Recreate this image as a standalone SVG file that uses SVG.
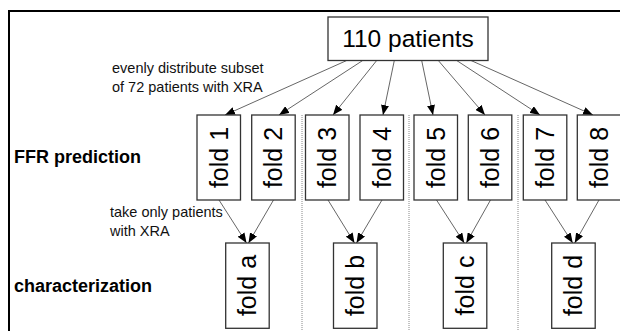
<svg xmlns="http://www.w3.org/2000/svg" width="620" height="331" viewBox="0 0 620 331">
<defs>
<marker id="ah" markerUnits="userSpaceOnUse" markerWidth="10" markerHeight="8" refX="10" refY="4" orient="auto">
<path d="M0,0 L10,4 L0,8 z" fill="#000"/>
</marker>
<style>
.box{fill:#fff;stroke:#333;stroke-width:1.3}
.lbl{font-family:"Liberation Sans",Arial,sans-serif;font-size:14.5px;fill:#111}
.head{font-family:"Liberation Sans",Arial,sans-serif;font-size:18px;font-weight:bold;fill:#000}
.fold{font-family:"Liberation Sans",Arial,sans-serif;font-size:25px;fill:#000;text-anchor:middle}
.conn{stroke:#555;stroke-width:0.9;fill:none;marker-end:url(#ah)}
.sep{stroke:#888;stroke-width:1;stroke-dasharray:1,1}
</style>
</defs>
<rect x="9" y="11" width="620" height="340" fill="none" stroke="#000" stroke-width="2"/>
<g id="separators">
<line class="sep" x1="302" y1="115" x2="302" y2="331"/>
<line class="sep" x1="409" y1="115" x2="409" y2="331"/>
<line class="sep" x1="518" y1="115" x2="518" y2="331"/>
</g>
<text class="lbl" x="112" y="73">evenly distribute subset</text>
<text class="lbl" x="112" y="92">of 72 patients with XRA</text>
<text class="head" x="14" y="163">FFR prediction</text>
<text class="lbl" x="110" y="217">take only patients</text>
<text class="lbl" x="110" y="235.5">with XRA</text>
<text class="head" x="14" y="291.5">characterization</text>
<g id="connectors">
<line class="conn" x1="346.7" y1="60.5" x2="225" y2="115"/>
<line class="conn" x1="362.7" y1="60.5" x2="279" y2="115"/>
<line class="conn" x1="376.7" y1="60.5" x2="333" y2="115"/>
<line class="conn" x1="394.3" y1="60.5" x2="383" y2="115"/>
<line class="conn" x1="421.7" y1="60.5" x2="433" y2="115"/>
<line class="conn" x1="438.3" y1="60.5" x2="485" y2="115"/>
<line class="conn" x1="456.7" y1="60.5" x2="540" y2="115"/>
<line class="conn" x1="471" y1="60.5" x2="593" y2="115"/>
<line class="conn" x1="219" y1="200" x2="246.5" y2="243"/>
<line class="conn" x1="273.5" y1="200" x2="248.5" y2="243"/>
<line class="conn" x1="328" y1="200" x2="354.5" y2="243"/>
<line class="conn" x1="382" y1="200" x2="356.5" y2="243"/>
<line class="conn" x1="436.5" y1="200" x2="464.3" y2="243"/>
<line class="conn" x1="490.5" y1="200" x2="466.3" y2="243"/>
<line class="conn" x1="545" y1="200" x2="572.7" y2="243"/>
<line class="conn" x1="599" y1="200" x2="574.7" y2="243"/>
</g>
<g id="patients">
<rect class="box" x="328" y="17" width="160" height="43.5"/>
<text x="408" y="47" text-anchor="middle" font-family="Liberation Sans, Arial, sans-serif" font-size="24.5" fill="#000">110 patients</text>
</g>
<g id="fold1"><rect class="box" x="197" y="115" width="43.5" height="85"/><text class="fold" transform="translate(227.5,157.5) rotate(-90)">fold 1</text></g>
<g id="fold2"><rect class="box" x="251.7" y="115" width="43.5" height="85"/><text class="fold" transform="translate(282.2,157.5) rotate(-90)">fold 2</text></g>
<g id="fold3"><rect class="box" x="305.5" y="115" width="43.5" height="85"/><text class="fold" transform="translate(336,157.5) rotate(-90)">fold 3</text></g>
<g id="fold4"><rect class="box" x="360" y="115" width="43.5" height="85"/><text class="fold" transform="translate(390.5,157.5) rotate(-90)">fold 4</text></g>
<g id="fold5"><rect class="box" x="414" y="115" width="43.5" height="85"/><text class="fold" transform="translate(444.5,157.5) rotate(-90)">fold 5</text></g>
<g id="fold6"><rect class="box" x="468.3" y="115" width="43.5" height="85"/><text class="fold" transform="translate(498.8,157.5) rotate(-90)">fold 6</text></g>
<g id="fold7"><rect class="box" x="523.3" y="115" width="43.5" height="85"/><text class="fold" transform="translate(553.8,157.5) rotate(-90)">fold 7</text></g>
<g id="fold8"><rect class="box" x="577.3" y="115" width="43.5" height="85"/><text class="fold" transform="translate(607.8,157.5) rotate(-90)">fold 8</text></g>
<g id="folda"><rect class="box" x="225.7" y="243" width="43.5" height="85.3"/><text class="fold" transform="translate(256.2,285.5) rotate(-90)">fold a</text></g>
<g id="foldb"><rect class="box" x="333.5" y="243" width="43.5" height="85.3"/><text class="fold" transform="translate(364,285.5) rotate(-90)">fold b</text></g>
<g id="foldc"><rect class="box" x="443.3" y="243" width="43.5" height="85.3"/><text class="fold" transform="translate(473.8,285.5) rotate(-90)">fold c</text></g>
<g id="foldd"><rect class="box" x="551.7" y="243" width="43.5" height="85.3"/><text class="fold" transform="translate(582.2,285.5) rotate(-90)">fold d</text></g>
</svg>
